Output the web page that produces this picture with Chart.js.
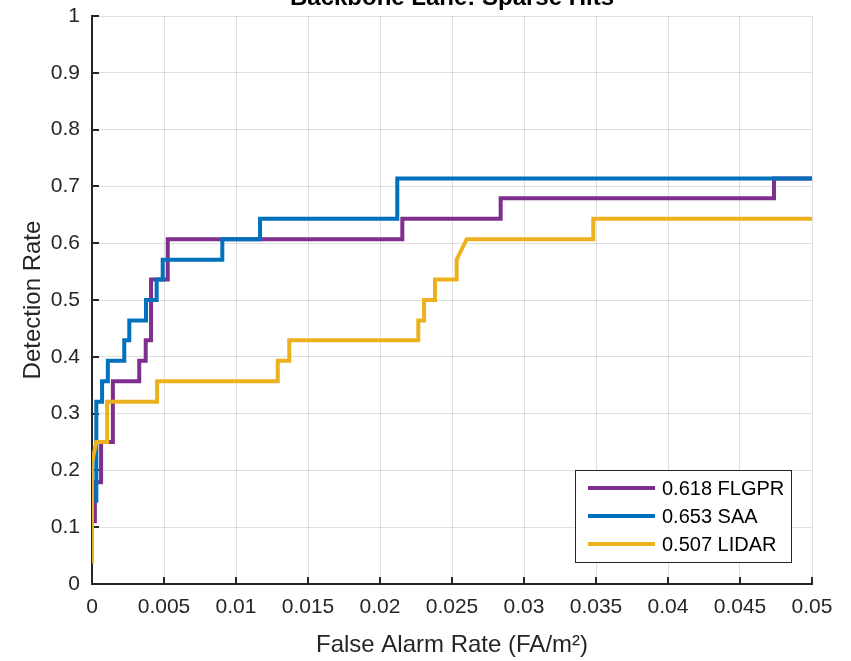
<!DOCTYPE html>
<html>
<head>
<meta charset="utf-8">
<script src="https://cdn.jsdelivr.net/npm/chart.js@4.4.1/dist/chart.umd.min.js"></script>
<style>
  html, body { margin: 0; padding: 0; background: #fff; }
  #wrap { width: 851px; height: 661px; }
</style>
</head>
<body>
<div id="wrap"><canvas id="chart" width="851" height="661"></canvas></div>
<script>
const TITLE = "Backbone Lane: Sparse Hits";
const X_TITLE = "False Alarm Rate (FA/m\u00B2)";
const Y_TITLE = "Detection Rate";

const SERIES_NAMES = ["0.618 FLGPR", "0.653 SAA", "0.507 LIDAR"];

const xTicks = [0, 0.005, 0.01, 0.015, 0.02, 0.025, 0.03, 0.035, 0.04, 0.045, 0.05];
const xTickLabels = ["0", "0.005", "0.01", "0.015", "0.02", "0.025", "0.03", "0.035", "0.04", "0.045", "0.05"];
const yTicks = [0, 0.1, 0.2, 0.3, 0.4, 0.5, 0.6, 0.7, 0.8, 0.9, 1];
const yTickLabels = ["0", "0.1", "0.2", "0.3", "0.4", "0.5", "0.6", "0.7", "0.8", "0.9", "1"];

// FLGPR
const flgprX = [0.0002, 0.0002, 0.00063, 0.00063, 0.00145, 0.00145, 0.00328, 0.00328, 0.00373, 0.00373,
  0.0041, 0.0041, 0.00526, 0.00526, 0.02155, 0.02155, 0.02838, 0.02838, 0.04736, 0.04736, 0.05];
const flgprY = [0.107, 0.179, 0.179, 0.25, 0.25, 0.357, 0.357, 0.393, 0.393, 0.429,
  0.429, 0.536, 0.536, 0.607, 0.607, 0.643, 0.643, 0.679, 0.679, 0.714, 0.714];

// SAA
const saaX = [0.0003, 0.0003, 0.0007, 0.0007, 0.0011, 0.0011, 0.00224, 0.00224, 0.00259, 0.00259,
  0.00375, 0.00375, 0.00449, 0.00449, 0.00491, 0.00491, 0.00905, 0.00905, 0.01167, 0.01167,
  0.0212, 0.0212, 0.05];
const saaY = [0.143, 0.321, 0.321, 0.357, 0.357, 0.393, 0.393, 0.429, 0.429, 0.464,
  0.464, 0.5, 0.5, 0.536, 0.536, 0.571, 0.571, 0.607, 0.607, 0.643,
  0.643, 0.714, 0.714];

// LIDAR
const lidarX = [0, 0, 0.0003, 0.00105, 0.00105, 0.00452, 0.00452, 0.0129, 0.0129, 0.0137,
  0.0137, 0.02266, 0.02266, 0.02306, 0.02306, 0.02382, 0.02382, 0.02532, 0.02532, 0.02602,
  0.03481, 0.03481, 0.05];
const lidarY = [0.036, 0.214, 0.25, 0.25, 0.321, 0.321, 0.357, 0.357, 0.393, 0.393,
  0.429, 0.429, 0.464, 0.464, 0.5, 0.5, 0.536, 0.536, 0.571, 0.607,
  0.607, 0.643, 0.643];

const COLORS = ["#7E2F8E", "#0072BD", "#EDB120"];
const FONT = '"Liberation Sans", Arial, Helvetica, sans-serif';
const INK = "#262626";

function toPoints(xs, ys) {
  return xs.map((x, i) => ({ x: x, y: ys[i] }));
}

const seriesData = [toPoints(flgprX, flgprY), toPoints(saaX, saaY), toPoints(lidarX, lidarY)];

// inward tick marks, axis title on top, legend box inside the plot
const decorations = {
  id: "decorations",
  beforeDatasetsDraw(chart) {
    const { ctx, chartArea, scales } = chart;
    ctx.save();
    ctx.strokeStyle = INK;
    ctx.lineWidth = 2;
    ctx.beginPath();
    xTicks.forEach(v => {
      const px = Math.round(scales.x.getPixelForValue(v));
      ctx.moveTo(px, chartArea.bottom);
      ctx.lineTo(px, chartArea.bottom - 7);
    });
    yTicks.forEach(v => {
      const py = Math.round(scales.y.getPixelForValue(v));
      ctx.moveTo(chartArea.left, py);
      ctx.lineTo(chartArea.left + 7, py);
    });
    ctx.stroke();
    ctx.restore();
  },
  afterDraw(chart) {
    const { ctx, chartArea } = chart;
    ctx.save();

    ctx.fillStyle = "#000";
    ctx.font = "bold 24px " + FONT;
    ctx.textAlign = "center";
    ctx.textBaseline = "alphabetic";
    ctx.fillText(TITLE, (chartArea.left + chartArea.right) / 2, 5);

    const bx = 575.5, by = 470.5, bw = 216, bh = 92;
    ctx.fillStyle = "#fff";
    ctx.fillRect(bx, by, bw, bh);
    ctx.strokeStyle = INK;
    ctx.lineWidth = 1;
    ctx.strokeRect(bx, by, bw, bh);

    ctx.font = "20px " + FONT;
    ctx.textAlign = "left";
    ctx.textBaseline = "middle";
    chart.data.datasets.forEach((ds, i) => {
      const ry = 488 + i * 28;
      ctx.strokeStyle = ds.borderColor;
      ctx.lineWidth = 4;
      ctx.beginPath();
      ctx.moveTo(588, ry);
      ctx.lineTo(655, ry);
      ctx.stroke();
      ctx.fillStyle = "#000";
      ctx.fillText(ds.label, 662, ry + 1);
    });
    ctx.restore();
  }
};

const ctx = document.getElementById("chart").getContext("2d");

new Chart(ctx, {
  type: "line",
  data: {
    datasets: SERIES_NAMES.map((name, i) => ({
      label: name,
      data: seriesData[i],
      borderColor: COLORS[i],
      backgroundColor: COLORS[i],
      borderWidth: 4,
      pointRadius: 0,
      tension: 0,
      fill: false,
      order: 3 - i
    }))
  },
  options: {
    responsive: false,
    animation: false,
    layout: { padding: { top: 16, right: 39, left: 0, bottom: 0 } },
    plugins: {
      legend: { display: false },
      tooltip: { enabled: false },
      title: { display: false }
    },
    scales: {
      x: {
        type: "linear",
        min: 0,
        max: 0.05,
        afterBuildTicks: scale => { scale.ticks = xTicks.map(v => ({ value: v })); },
        afterFit: scale => {
          scale.height = 77;
          scale.paddingLeft = 0;
          scale.paddingRight = 0;
        },
        ticks: {
          color: INK,
          font: { family: FONT, size: 21 },
          padding: 11,
          maxRotation: 0,
          autoSkip: false,
          callback: (value, index) => xTickLabels[index]
        },
        grid: { color: "rgba(38,38,38,0.15)", lineWidth: 1, drawTicks: false },
        border: { color: INK, width: 2 },
        title: {
          display: true,
          text: X_TITLE,
          color: INK,
          font: { family: FONT, size: 24 },
          padding: { top: 0, bottom: 1 }
        }
      },
      y: {
        type: "linear",
        min: 0,
        max: 1,
        afterBuildTicks: scale => { scale.ticks = yTicks.map(v => ({ value: v })); },
        afterFit: scale => {
          scale.width = 92;
          scale.paddingTop = 0;
          scale.paddingBottom = 0;
        },
        ticks: {
          color: INK,
          font: { family: FONT, size: 21 },
          padding: 12,
          autoSkip: false,
          callback: (value, index) => yTickLabels[index]
        },
        grid: { color: "rgba(38,38,38,0.15)", lineWidth: 1, drawTicks: false },
        border: { color: INK, width: 2 },
        title: {
          display: true,
          text: Y_TITLE,
          color: INK,
          font: { family: FONT, size: 24 },
          padding: { top: 19, bottom: 0 }
        }
      }
    }
  },
  plugins: [decorations]
});
</script>
</body>
</html>
